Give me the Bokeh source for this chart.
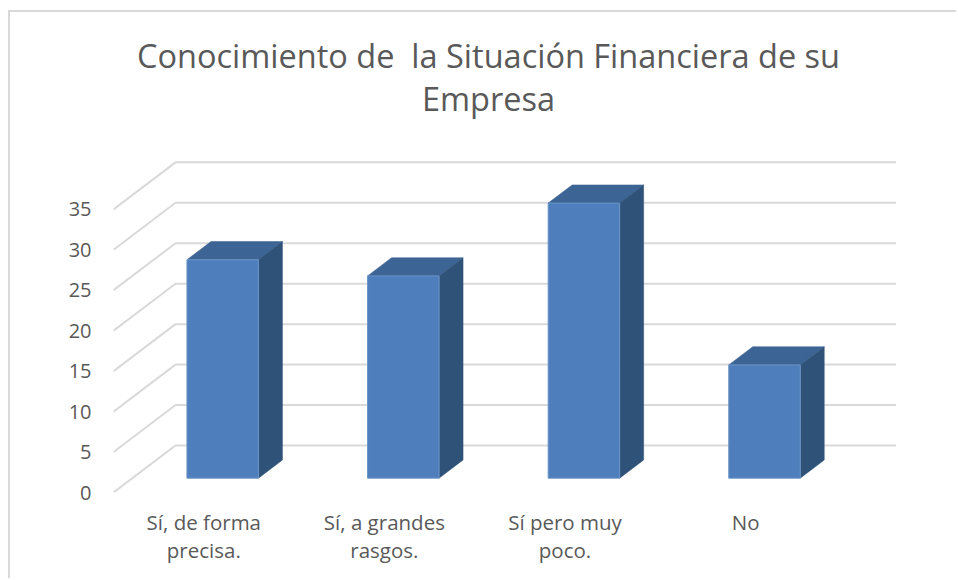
from bokeh.plotting import figure
from bokeh.models import Range1d, FixedTicker, LinearAxis, Label
from bokeh.embed import file_html
from bokeh.resources import INLINE

categories = ["Sí, de forma\nprecisa.", "Sí, a grandes\nrasgos.", "Sí pero muy\npoco.", "No"]
values = [27, 25, 34, 14]
y_ticks = [0, 5, 10, 15, 20, 25, 30, 35]
title_lines = ["Conocimiento de \u00a0la Situación Financiera de su", "Empresa"]

OX, OY = 10, 12          # figure origin on the page
W, H = 958 - OX, 580 - OY
PX0, PY0 = 113, 492      # page position of the front-bottom-left corner
LEFT, BOTTOM = PX0 - OX, OY + H - PY0
UNIT_X = 180.6   # px per category
UNIT_Y = 8.09    # px per value unit
DEPTH_X = 62 / UNIT_X
DEPTH_Y = 47 / UNIT_Y
D0, D1 = 0.305, 0.692
BAR_W = 71.5 / UNIT_X

TEXT = "#595959"
GRID = "#d9d9d9"
FONT = "Open Sans"

p = figure(width=W, height=H, output_backend="svg", toolbar_location=None,
           x_range=Range1d(0, (W - LEFT) / UNIT_X),
           y_range=Range1d(0, (H - BOTTOM) / UNIT_Y),
           x_axis_location=None, y_axis_location=None,
           min_border_left=LEFT, min_border_bottom=BOTTOM,
           min_border_top=0, min_border_right=0,
           margin=(OY, 0, 0, OX),
           styles={"box-shadow": f"-2px -2px 0 0 {GRID}"})
p.outline_line_color = None
p.grid.visible = False
p.background_fill_color = "white"

# grid: side wall and back wall
n = len(categories)
xs, ys = [], []
for v in y_ticks:
    xs.append([0, DEPTH_X, DEPTH_X + n - 0.01])
    ys.append([v, v + DEPTH_Y, v + DEPTH_Y])
p.multi_line(xs, ys, line_color=GRID, line_width=2)


def proj(cx, depth, v):
    return cx + depth * DEPTH_X, v + depth * DEPTH_Y


front_x, front_y, top_x, top_y, side_x, side_y = [], [], [], [], [], []
for i, v in enumerate(values):
    l, r = i + 0.5 - BAR_W / 2, i + 0.5 + BAR_W / 2
    pts = [proj(l, D0, 0), proj(r, D0, 0), proj(r, D0, v), proj(l, D0, v)]
    front_x.append([a for a, b in pts]); front_y.append([b for a, b in pts])
    pts = [proj(l, D0, v), proj(r, D0, v), proj(r, D1, v), proj(l, D1, v)]
    top_x.append([a for a, b in pts]); top_y.append([b for a, b in pts])
    pts = [proj(r, D0, 0), proj(r, D1, 0), proj(r, D1, v), proj(r, D0, v)]
    side_x.append([a for a, b in pts]); side_y.append([b for a, b in pts])

p.patches(top_x, top_y, fill_color="#3c6494", line_color="#3c6494", line_width=0.5)
p.patches(side_x, side_y, fill_color="#2f5279", line_color="#2f5279", line_width=0.5)
p.patches(front_x, front_y, fill_color="#4e7fbc", line_color="#6b94c6", line_width=1)

# axes
ya = LinearAxis(ticker=FixedTicker(ticks=y_ticks))
ya.axis_line_color = None
ya.major_tick_line_color = None
ya.major_tick_in = 0
ya.major_tick_out = 0
ya.minor_tick_line_color = None
ya.major_label_standoff = 22
ya.major_label_text_font = FONT
ya.major_label_text_font_size = "20px"
ya.major_label_text_color = TEXT
p.add_layout(ya, "left")

xa = LinearAxis(ticker=FixedTicker(ticks=[i + 0.5 for i in range(n)]),
                major_label_overrides={i + 0.5: c for i, c in enumerate(categories)})
xa.axis_line_color = None
xa.major_tick_line_color = None
xa.major_tick_in = 0
xa.major_tick_out = 0
xa.minor_tick_line_color = None
xa.major_label_standoff = 15
xa.major_label_text_font = FONT
xa.major_label_text_font_size = "20.5px"
xa.major_label_text_line_height = 1.02
xa.major_label_text_color = TEXT
p.add_layout(xa, "below")

# title
for line, px_y in zip(title_lines, [55, 98]):
    p.add_layout(Label(x=(488 - PX0) / UNIT_X, y=(PY0 - px_y) / UNIT_Y, text=line,
                       text_align="center", text_baseline="middle",
                       text_font=FONT, text_font_size="32.5px", text_color=TEXT))

open("out.html", "w").write(file_html(p, INLINE))
